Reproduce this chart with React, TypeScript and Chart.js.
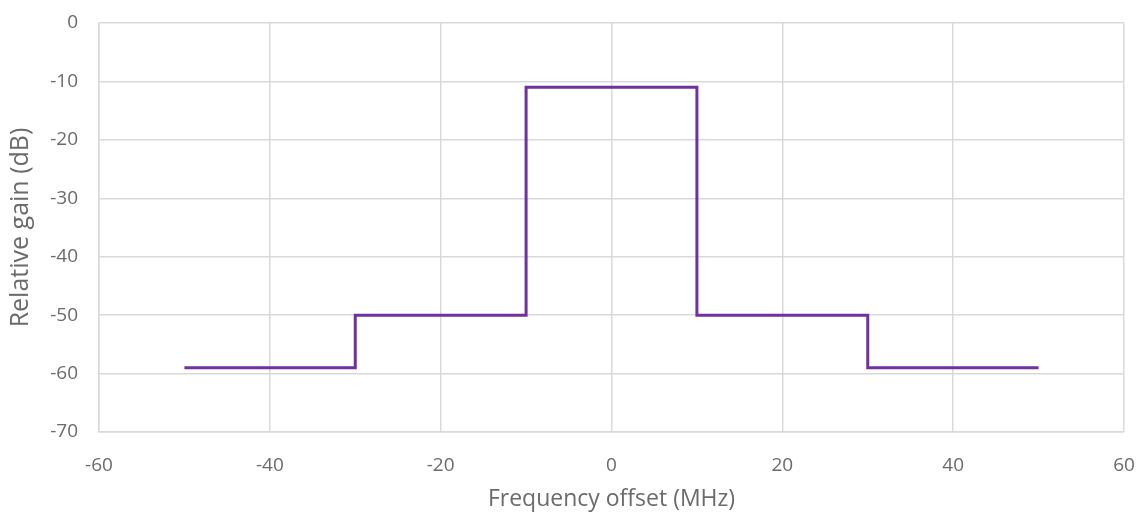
import React, { useEffect, useRef } from "react";
import { Chart, registerables } from "chart.js";

Chart.register(...registerables);

const freqOffsets = [-50, -30, -10, 10, 30, 50];
const relativeGain = [-59, -50, -11, -50, -59, -59];
const xTicks = [-60, -40, -20, 0, 20, 40, 60];
const yTicks = [0, -10, -20, -30, -40, -50, -60, -70];

const FONT = "'Open Sans', 'Noto Sans', sans-serif";

export default function App() {
  const ref = useRef<HTMLCanvasElement | null>(null);
  useEffect(() => {
    document.body.style.margin = "0";
    const ctx = ref.current!;
    const chart = new Chart(ctx, {
      type: "line",
      data: {
        datasets: [
          {
            data: freqOffsets.map((x, i) => ({ x, y: relativeGain[i] })),
            borderColor: "#7030A0",
            borderWidth: 3,
            pointRadius: 0,
            stepped: "before",
            fill: false,
          },
        ],
      },
      options: {
        animation: false,
        responsive: false,
        maintainAspectRatio: false,
        layout: { padding: { top: 23, right: 13, left: 0, bottom: 0 } },
        plugins: { legend: { display: false }, tooltip: { enabled: false } },
        scales: {
          x: {
            type: "linear",
            min: -60,
            max: 60,
            afterBuildTicks: (s: any) => {
              s.ticks = xTicks.map((v) => ({ value: v }));
            },
            afterFit: (s: any) => {
              s.height = 81;
              s.paddingRight = 0;
              s.paddingLeft = 0;
            },
            grid: { color: "#d9d9d9", lineWidth: 1.5, drawTicks: false },
            border: { color: "#d9d9d9", width: 1.5 },
            ticks: { color: "#6b6b6b", font: { family: FONT, size: 19 }, padding: 22 },
            title: {
              display: true,
              text: "Frequency offset (MHz)",
              color: "#6b6b6b",
              font: { family: FONT, size: 23 },
              padding: { top: 0, bottom: 0 },
            },
          },
          y: {
            type: "linear",
            min: -70,
            max: 0,
            afterBuildTicks: (s: any) => {
              s.ticks = yTicks.map((v) => ({ value: v }));
            },
            afterFit: (s: any) => {
              s.width = 99;
              s.paddingTop = 0;
              s.paddingBottom = 0;
            },
            grid: { color: "#d9d9d9", lineWidth: 1.5, drawTicks: false },
            border: { color: "#d9d9d9", width: 1.5 },
            ticks: { color: "#6b6b6b", font: { family: FONT, size: 19 }, padding: 21 },
            title: {
              display: true,
              text: "Relative gain (dB)",
              color: "#6b6b6b",
              font: { family: FONT, size: 25 },
              padding: { top: 6, bottom: 0 },
            },
          },
        },
      },
    });
    return () => chart.destroy();
  }, []);
  return (
    <div style={{ width: 1137, height: 513, background: "#fff" }}>
      <canvas ref={ref} width={1137} height={513} style={{ display: "block" }} />
    </div>
  );
}
